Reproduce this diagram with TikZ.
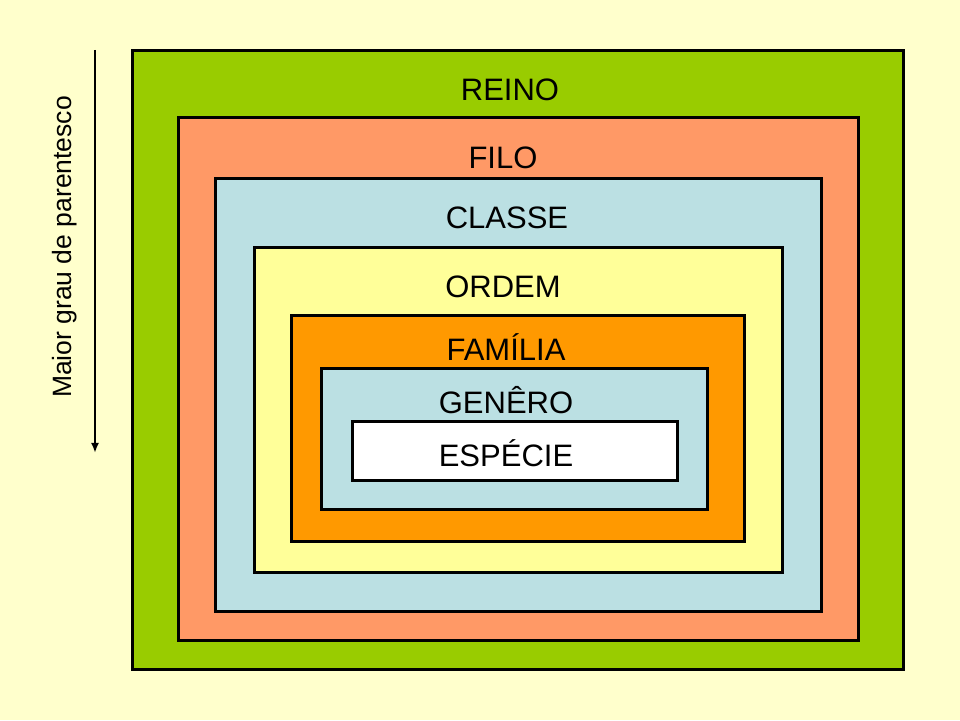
\documentclass[tikz,border=0pt]{standalone}
\usepackage{fontspec}
\setmainfont{Liberation Sans}
\usepackage{tikz}
\usepackage{tkz-euclide}
\usetikzlibrary{arrows.meta}
\definecolor{papel}{HTML}{FFFFCC}
\definecolor{verde}{HTML}{99CC00}
\definecolor{salmao}{HTML}{FF9966}
\definecolor{azulclaro}{HTML}{BBE0E3}
\definecolor{amarelo}{HTML}{FFFF99}
\definecolor{laranja}{HTML}{FF9900}
\tikzset{
  caixa/.style={draw=black, line width=3pt},
  rotulo/.style={font=\fontsize{31}{35}\selectfont, inner sep=0pt}
}

\begin{document}
\begin{tikzpicture}[x=1pt,y=1pt]
                        \fill[papel] (0,0) rectangle (960,720);
                        \useasboundingbox (0,0) rectangle (960,720);

                        \tkzDefPoint(132,51){R1}   \tkzDefPoint(903,669){R2}
                        \tkzDefPoint(178,80){F1}   \tkzDefPoint(858,602){F2}
                        \tkzDefPoint(215,109){C1}  \tkzDefPoint(821,541){C2}
                        \tkzDefPoint(254,148){O1}  \tkzDefPoint(782,472){O2}
                        \tkzDefPoint(291,178){A1}  \tkzDefPoint(744,404){A2}
                        \tkzDefPoint(321,210){G1}  \tkzDefPoint(707,351){G2}
                        \tkzDefPoint(352,239){E1}  \tkzDefPoint(677,298){E2}

                        \draw[caixa, fill=verde] (R1) rectangle (R2);
                        \draw[caixa, fill=salmao] (F1) rectangle (F2);
                        \draw[caixa, fill=azulclaro] (C1) rectangle (C2);
                        \draw[caixa, fill=amarelo] (O1) rectangle (O2);
                        \draw[caixa, fill=laranja] (A1) rectangle (A2);
                        \draw[caixa, fill=azulclaro] (G1) rectangle (G2);
                        \draw[caixa, fill=white] (E1) rectangle (E2);

                        \node[rotulo] (reino) at (510,630) {REINO};
                        \node[rotulo] (filo) at (503,562) {FILO};
                        \node[rotulo] (classe) at (507,502) {CLASSE};
                        \node[rotulo] (ordem) at (503,433) {ORDEM};
                        \node[rotulo] (familia) at (506,373) {FAMÍLIA};
                        \node[rotulo] (genero) at (506,320) {GENÊRO};
                        \node[rotulo] (especie) at (506,267) {ESPÉCIE};

                        \tkzDefPoint(95,670){T}
                        \tkzDefPoint(95,267){B}
                        \draw[line width=2pt, -{Latex[length=10pt,width=8pt]}] (T) -- (B);
                        \node[font=\fontsize{26.5}{30}\selectfont, rotate=90, inner sep=0pt] (parentesco) at (65,473) {Maior grau de parentesco};
                    \end{tikzpicture}
\end{document}
